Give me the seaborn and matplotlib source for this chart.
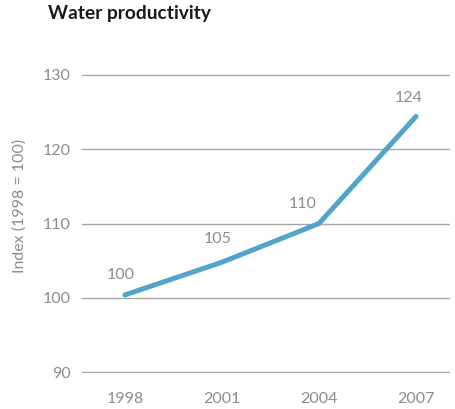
import matplotlib
matplotlib.use("Agg")
import matplotlib.pyplot as plt
import seaborn as sns
import pandas as pd

# Water productivity index, 1998 = 100
years = [1998, 2001, 2004, 2007]
index_values = [100.4, 104.8, 110.0, 124.4]
y_ticks = [90, 100, 110, 120, 130]

title = "Water productivity"
y_label = "Index (1998 = 100)"

sns.set_style("white")
plt.rcParams["font.family"] = ["Lato", "DejaVu Sans"]

LINE_BLUE = "#52a5c9"
TEXT_GREY = "#8c8c8c"
GRID_GREY = "#a6a6a6"

df = pd.DataFrame({"year": years, "index": index_values})

fig = plt.figure(figsize=(4.55, 4.09), dpi=100)
ax = fig.add_axes([0.180, 0.088, 0.809, 0.731])

sns.lineplot(data=df, x="year", y="index", ax=ax, color=LINE_BLUE,
             linewidth=3.6, solid_capstyle="round", solid_joinstyle="miter")

ax.set_xlim(1996.67, 2008.05)
ax.set_ylim(89.9, 130.1)
ax.set_xticks(years)
ax.set_yticks(y_ticks)
ax.set_xticklabels([str(y) for y in years])
ax.set_yticklabels([str(t) for t in y_ticks])
ax.set_xlabel("")
ax.set_ylabel("")

ax.grid(axis="y", color=GRID_GREY, linewidth=1.0)
ax.grid(axis="x", visible=False)
ax.set_axisbelow(True)
for s in ax.spines.values():
    s.set_visible(False)
ax.tick_params(axis="both", length=0, labelsize=11.5, labelcolor=TEXT_GREY)
ax.tick_params(axis="x", pad=14)
ax.tick_params(axis="y", pad=8)

# value labels above each point
label_offsets = [(-3, 14), (-3, 17), (-12, 14), (-5, 13)]
for x, v, (dx, dy) in zip(years, index_values, label_offsets):
    ax.annotate(f"{v:.0f}", xy=(x, v), xytext=(dx, dy), textcoords="offset points",
                ha="center", va="center", fontsize=11.5, color=TEXT_GREY)

fig.text(0.105, 0.966, title, ha="left", va="center", fontsize=13.8,
         fontweight="bold", color="#1a1a1a")
fig.text(0.042, 0.496, y_label, rotation=90, ha="center", va="center",
         fontsize=11.5, color=TEXT_GREY)

fig.savefig("out.png", dpi=100)
